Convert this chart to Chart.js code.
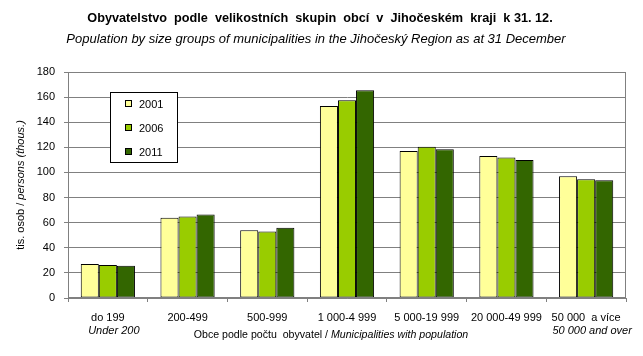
<!DOCTYPE html>
<html>
<head>
<meta charset="utf-8">
<script src="https://cdn.jsdelivr.net/npm/chart.js@4/dist/chart.umd.min.js"></script>
<style>
html,body{margin:0;padding:0;background:#fff;}
#wrap{width:643px;height:356px;position:relative;}
</style>
</head>
<body>
<div id="wrap"><canvas id="c" width="643" height="356"></canvas></div>
<script>
const titleText = 'Obyvatelstvo  podle  velikostních  skupin  obcí  v  Jihočeském  kraji  k 31. 12.';
const subtitleText = 'Population by size groups of municipalities in the Jihočeský Region as at 31 December';
const categories = ['do 199', '200-499', '500-999', '1 000-4 999', '5 000-19 999', '20 000-49 999', '50 000  a více'];
const subLabels = ['Under 200', '', '', '', '', '', '50 000 and over'];
const seriesNames = ['2001', '2006', '2011'];
const v2001 = [27, 64, 54, 153, 117, 113, 97];
const v2006 = [26.3, 65, 53, 157.5, 120.5, 112, 94.5];
const v2011 = [25.6, 66.5, 56, 165.5, 118.5, 110, 93.7];
const yTicks = [0, 20, 40, 60, 80, 100, 120, 140, 160, 180];
const yTitleParts = [['tis. osob / ', 'normal'], ['persons (thous.)', 'italic']];
const xTitleParts = [['Obce podle počtu  obyvatel / ', 'normal'], ['Municipalities with population', 'italic']];

const FONT = "'Liberation Sans', Arial, sans-serif";
const colors = ['#FFFF99', '#99CC00', '#336600'];

function drawParts(ctx, parts, size, cx, cy) {
  let total = 0;
  const widths = parts.map(([t, s]) => { ctx.font = s + ' ' + size + 'px ' + FONT; const w = ctx.measureText(t).width; total += w; return w; });
  let x = cx - total / 2;
  ctx.textAlign = 'left';
  ctx.textBaseline = 'middle';
  parts.forEach(([t, s], i) => { ctx.font = s + ' ' + size + 'px ' + FONT; ctx.fillText(t, x, cy); x += widths[i]; });
}

const decor = {
  id: 'decor',
  beforeDraw(chart) {
    const ctx = chart.ctx;
    ctx.save();
    ctx.fillStyle = '#fff';
    ctx.fillRect(0, 0, chart.width, chart.height);
    ctx.restore();
  },
  afterDatasetsDraw(chart) {
    const ctx = chart.ctx;
    ctx.save();
    const bx = 110.5, by = 92.5, bw = 67, bh = 70;
    ctx.fillStyle = '#fff';
    ctx.fillRect(bx, by, bw, bh);
    ctx.strokeStyle = '#000';
    ctx.lineWidth = 1;
    ctx.strokeRect(bx, by, bw, bh);
    chart.data.datasets.forEach((ds, i) => {
      const cy = 104 + i * 24;
      ctx.fillStyle = ds.backgroundColor;
      ctx.fillRect(125.5, cy - 3.5, 6, 6);
      ctx.strokeStyle = '#000';
      ctx.strokeRect(125.5, cy - 3.5, 6, 6);
      ctx.fillStyle = '#000';
      ctx.font = '11px ' + FONT;
      ctx.textAlign = 'left';
      ctx.textBaseline = 'middle';
      ctx.fillText(ds.label, 139, cy + 0.5);
    });
    ctx.restore();
  },
  afterDraw(chart) {
    const ctx = chart.ctx;
    const a = chart.chartArea;
    const x = chart.scales.x;
    ctx.save();
    ctx.strokeStyle = '#808080';
    ctx.lineWidth = 1;
    ctx.strokeRect(Math.round(a.left) + 0.5, Math.round(a.top) + 0.5, Math.round(a.right - a.left) - 1, Math.round(a.bottom - a.top) - 1);
    ctx.fillStyle = '#000';
    ctx.textAlign = 'center';
    ctx.textBaseline = 'middle';
    ctx.font = 'bold 12.7px ' + FONT;
    ctx.fillText(titleText, 320, 18);
    ctx.font = 'italic 13px ' + FONT;
    ctx.fillText(subtitleText, 316, 39);
    ctx.font = 'italic 11px ' + FONT;
    subLabels.forEach((t, i) => { if (t) ctx.fillText(t, x.getPixelForTick(i) + 6, 331); });
    drawParts(ctx, xTitleParts, 10.6, 331, 335);
    ctx.save();
    ctx.translate(21, (a.top + a.bottom) / 2);
    ctx.rotate(-Math.PI / 2);
    drawParts(ctx, yTitleParts, 11, 0, 0);
    ctx.restore();
    ctx.restore();
  }
};

new Chart(document.getElementById('c'), {
  type: 'bar',
  data: {
    labels: categories,
    datasets: [
      { label: seriesNames[0], data: v2001, backgroundColor: colors[0] },
      { label: seriesNames[1], data: v2006, backgroundColor: colors[1] },
      { label: seriesNames[2], data: v2011, backgroundColor: colors[2] }
    ].map(d => Object.assign(d, { borderColor: '#000', borderWidth: 1, borderSkipped: false, barPercentage: 1, categoryPercentage: 0.68 }))
  },
  options: {
    responsive: false,
    animation: false,
    devicePixelRatio: 1,
    layout: { padding: { top: 72, right: 17, left: 0, bottom: 0 } },
    plugins: { legend: { display: false }, title: { display: false }, tooltip: { enabled: false } },
    scales: {
      x: {
        afterFit(s) { s.height = 58; },
        grid: { offset: true, drawOnChartArea: false, drawTicks: true, tickLength: 4, color: '#808080' },
        border: { color: '#808080' },
        ticks: { color: '#000', font: { family: FONT, size: 11 }, padding: 9, maxRotation: 0, autoSkip: false }
      },
      y: {
        min: 0, max: 180,
        afterFit(s) { s.width = 68; },
        afterBuildTicks(s) { s.ticks = yTicks.map(v => ({ value: v })); },
        grid: { color: '#808080', borderDash: [2, 2], tickLength: 4, tickColor: '#808080', tickBorderDash: [] },
        border: { color: '#808080' },
        ticks: { color: '#000', font: { family: FONT, size: 11 }, padding: 9 }
      }
    }
  },
  plugins: [decor]
});
</script>
</body>
</html>
